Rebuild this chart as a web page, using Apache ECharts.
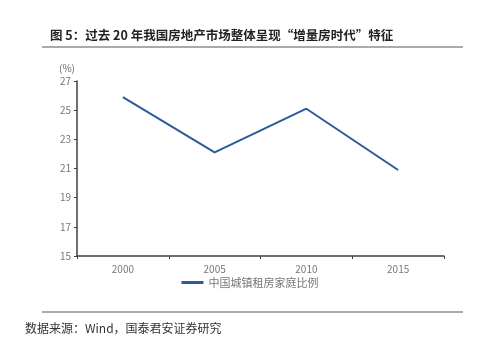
<!DOCTYPE html>
<html><head><meta charset="utf-8">
<script src="https://cdn.jsdelivr.net/npm/echarts@6/dist/echarts.min.js"></script>
<style>html,body{margin:0;padding:0;background:#fff}#c{width:500px;height:355px}</style>
</head><body><div id="c"></div>
<script>
const categories = ['2000', '2005', '2010', '2015'];
const rentRatio = [25.9, 22.1, 25.1, 20.9];
const yTicks = [15, 17, 19, 21, 23, 25, 27];
const seriesName = '中国城镇租房家庭比例';
const titleText = '图 5：过去 20 年我国房地产市场整体呈现“增量房时代”特征';
const sourceText = '数据来源：Wind，国泰君安证券研究';

const chart = echarts.init(document.getElementById('c'), null, {renderer: 'canvas'});
const font = '"Noto Sans CJK SC", "Noto Sans", sans-serif';
chart.setOption({
  animation: false,
  backgroundColor: '#fff',
  textStyle: {fontFamily: font},
  grid: {left: 77, right: 56, top: 81, bottom: 99},
  legend: {
    data: [seriesName], bottom: 62, left: 'center',
    itemWidth: 22, itemHeight: 3, icon: 'rect',
    textStyle: {color: '#777', fontSize: 11, fontFamily: font}
  },
  xAxis: {
    type: 'category', data: categories, boundaryGap: true,
    axisLine: {lineStyle: {color: '#404040', width: 1.5}},
    axisTick: {show: true, length: 3, lineStyle: {color: '#404040'}},
    axisLabel: {color: '#777', fontSize: 10, margin: 8}
  },
  yAxis: {
    type: 'value', min: yTicks[0], max: yTicks[yTicks.length - 1], interval: 2,
    name: '(%)', nameGap: 8,
    nameTextStyle: {color: '#666', fontSize: 10, align: 'right', padding: [0, 2, 0, 0]},
    axisLine: {show: true, lineStyle: {color: '#404040', width: 1.5}},
    axisTick: {show: true, inside: false, length: 3, lineStyle: {color: '#404040'}},
    axisLabel: {color: '#777', fontSize: 10, margin: 6},
    splitLine: {show: false}
  },
  series: [{
    name: seriesName, type: 'line', data: rentRatio,
    symbol: 'none', lineStyle: {color: '#2C5A9A', width: 2},
    itemStyle: {color: '#2C5A9A'}
  }],
  graphic: [
    {type: 'text', left: 50, top: 29, style: {text: titleText, font: 'bold 12.5px ' + font, fill: '#222'}},
    {type: 'rect', shape: {x: 42, y: 46, width: 421, height: 2}, style: {fill: '#aaa'}},
    {type: 'rect', shape: {x: 42, y: 311, width: 421, height: 2}, style: {fill: '#aaa'}},
    {type: 'text', left: 25, top: 322, style: {text: sourceText, font: '12px ' + font, fill: '#333'}}
  ]
});
</script></body></html>
